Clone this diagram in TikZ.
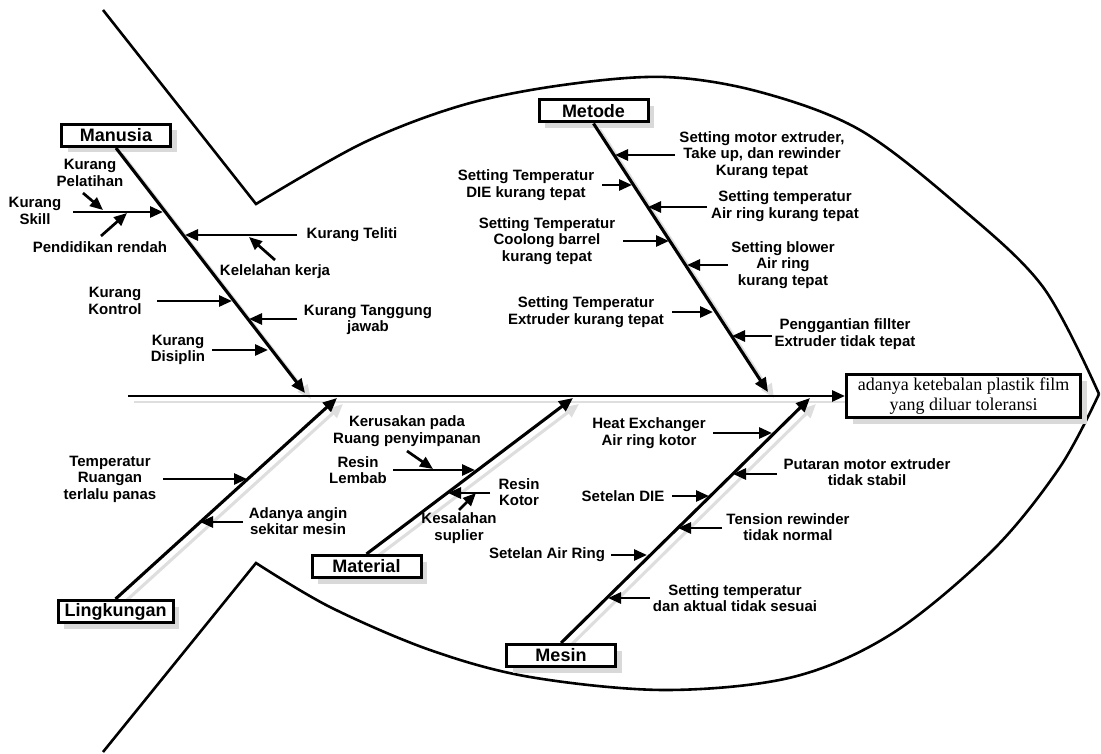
\documentclass[tikz,border=0pt]{standalone}
\usepackage{fontspec}
\newfontfamily\arialf{Liberation Sans}
\newfontfamily\tnrf{Liberation Serif}
\usetikzlibrary{arrows.meta,shadows}
\pgfdeclarelayer{bg}
\pgfsetlayers{bg,main}
\newcommand\subarrow[3]{\coordinate (#1s) at #2; \coordinate (#1e) at #3; \draw[sub] (#1s) -- (#1e);}
\begin{document}
\begin{tikzpicture}[x=1pt,y=-1pt,
  lbl/.style={font=\arialf\bfseries\fontsize{15}{16.5}\selectfont, align=center, inner sep=0pt},
  sub/.style={line width=2.7pt, -{Triangle[length=13pt,width=11pt]}},
  bone/.style={line width=3.1pt, -{Triangle[length=14pt,width=12pt]}},
  boneshadow/.style={bone, color=black!13},
  fish/.style={line width=2.6pt, line join=miter},
  catbox/.style={draw, line width=3pt, fill=white, minimum width=109pt, minimum height=22pt, inner sep=0pt,
    font=\arialf\bfseries\fontsize{18}{20}\selectfont,
    drop shadow={shadow xshift=6pt, shadow yshift=-6pt, fill=black!15, opacity=1}},
  headbox/.style={draw, line width=3pt, fill=white, minimum width=234pt, minimum height=43pt, inner sep=0pt, align=center,
    font=\tnrf\fontsize{18}{20}\selectfont,
    drop shadow={shadow xshift=6pt, shadow yshift=-6pt, fill=black!15, opacity=1}}
]
\useasboundingbox (0,0) rectangle (1101,754);

% category boxes and head
\node[catbox] (manusia) at (116,135.5) {Manusia};
\node[catbox] (metode) at (593.5,111) {Metode};
\node[catbox, minimum width=115pt] (lingkungan) at (115.5,611.5) {Lingkungan};
\node[catbox] (material) at (366.5,566.5) {Material};
\node[catbox] (mesin) at (561,655.5) {Mesin};
\node[headbox] (head) at (963.5,396) {adanya ketebalan plastik film\\yang diluar toleransi};

% bone tips and spine tail
\coordinate (tail) at (128,396);
\coordinate (mT) at (305,393);
\coordinate (meT) at (768,392);
\coordinate (lT) at (337,398);
\coordinate (maT) at (573,398);
\coordinate (msT) at (810,398);

\begin{pgfonlayer}{bg}
  % fish outline
  \draw[fish] (103,10) -- (256,204) -- plot[smooth,tension=0.55] coordinates
    {(256,204) (363,143) (463,105) (563,85) (665,77) (760,92) (860,130) (960,207) (1043,287) (1099,394)};
  \draw[fish] (103,752) -- (256,563) -- plot[smooth,tension=0.55] coordinates
    {(256,563) (330,607) (430,650) (530,677) (665,690) (793,677) (893,633) (993,550) (1060,467) (1099,394)};
  % shadows
  \draw[line width=2.8pt, color=black!13] ([shift={(6,6)}]tail) -- ([shift={(6,6)}]head.west);
  \draw[boneshadow] ([shift={(6,6)}]manusia.south) -- ([shift={(6,6)}]mT);
  \draw[boneshadow] ([shift={(6,6)}]metode.south) -- ([shift={(6,6)}]meT);
  \draw[boneshadow] ([shift={(6,6)}]lingkungan.north) -- ([shift={(6,6)}]lT);
  \draw[boneshadow] ([shift={(6,6)}]material.north) -- ([shift={(6,6)}]maT);
  \draw[boneshadow] ([shift={(6,6)}]mesin.north) -- ([shift={(6,6)}]msT);
\end{pgfonlayer}

% spine and bones
\draw[line width=2.8pt, -{Triangle[length=13pt,width=11pt]}] (tail) -- (head.west);
\draw[bone] (manusia.south) -- (mT);
\draw[bone] (metode.south) -- (meT);
\draw[bone] (lingkungan.north) -- (lT);
\draw[bone] (material.north) -- (maT);
\draw[bone] (mesin.north) -- (msT);

% Manusia
\node[lbl] (kpel) at (90,173) {Kurang\\Pelatihan};
\node[lbl] (kskill) at (35,211) {Kurang\\Skill};
\node[lbl] (pend) at (100,247) {Pendidikan rendah};
\node[lbl] (ktel) at (352,235) {Kurang Teliti};
\node[lbl] (kelel) at (275,272) {Kelelahan kerja};
\node[lbl] (kkon) at (115,301) {Kurang\\Kontrol};
\node[lbl] (ktang) at (368,320) {Kurang Tanggung\\jawab};
\node[lbl] (kdis) at (178,350) {Kurang\\Disiplin};
\subarrow{a1}{(73,212)}{(163,212)}
\subarrow{a2}{(83,193)}{(103,210)}
\subarrow{a3}{(101,236)}{(127,213)}
\subarrow{a4}{(297,235)}{(185,235)}
\subarrow{a5}{(275,260)}{(249,237)}
\subarrow{a6}{(157,301)}{(232,301)}
\subarrow{a7}{(297,319)}{(249,319)}
\subarrow{a8}{(212,350)}{(268,350)}

% Metode
\node[lbl] (smot) at (762,155) {Setting motor extruder,\\Take up, dan rewinder\\Kurang tepat};
\node[lbl] (sdie) at (526,185) {Setting Temperatur\\DIE kurang tepat};
\node[lbl] (sair) at (785,206) {Setting temperatur\\Air ring kurang tepat};
\node[lbl] (scool) at (547,241) {Setting Temperatur\\Coolong barrel\\kurang tepat};
\node[lbl] (sblow) at (783,265) {Setting blower\\Air ring\\kurang tepat};
\node[lbl] (sext) at (586,312) {Setting Temperatur\\Extruder kurang tepat};
\node[lbl] (pfil) at (845,334) {Penggantian fillter\\Extruder tidak tepat};
\subarrow{b1}{(675,155)}{(615,155)}
\subarrow{b2}{(602,185)}{(632,185)}
\subarrow{b3}{(707,207)}{(648,207)}
\subarrow{b4}{(623,241)}{(669,241)}
\subarrow{b5}{(728,265)}{(687,265)}
\subarrow{b6}{(672,312)}{(713,312)}
\subarrow{b7}{(772,336)}{(732,336)}

% Lingkungan
\node[lbl] (trua) at (110,479) {Temperatur\\Ruangan\\terlalu panas};
\node[lbl] (angin) at (298,521) {Adanya angin\\sekitar mesin};
\subarrow{c1}{(163,479)}{(247,479)}
\subarrow{c2}{(243,522)}{(200,522)}

% Material
\node[lbl] (kerus) at (407,431) {Kerusakan pada\\Ruang penyimpanan};
\node[lbl] (rlem) at (358,470) {Resin\\Lembab};
\node[lbl] (rkot) at (519,492) {Resin\\Kotor};
\node[lbl] (ksal) at (459,528) {Kesalahan\\suplier};
\subarrow{d1}{(393,470)}{(475,470)}
\subarrow{d2}{(407,451)}{(433,469)}
\subarrow{d3}{(490,493)}{(448,493)}
\subarrow{d4}{(459,510)}{(476,493)}

% Mesin
\node[lbl] (heat) at (649,433) {Heat Exchanger\\Air ring kotor};
\node[lbl] (putar) at (867,472) {Putaran motor extruder\\tidak stabil};
\node[lbl] (sdie2) at (623,496) {Setelan DIE};
\node[lbl] (tens) at (788,527) {Tension rewinder\\tidak normal};
\node[lbl] (sairr) at (547,555) {Setelan Air Ring};
\node[lbl] (stemp) at (735,598) {Setting temperatur\\dan aktual tidak sesuai};
\subarrow{e1}{(713,433)}{(772,433)}
\subarrow{e2}{(777,474)}{(733,474)}
\subarrow{e3}{(672,496)}{(709,496)}
\subarrow{e4}{(722,528)}{(678,528)}
\subarrow{e5}{(611,555)}{(647,555)}
\subarrow{e6}{(650,598)}{(608,598)}
\end{tikzpicture}
\end{document}
